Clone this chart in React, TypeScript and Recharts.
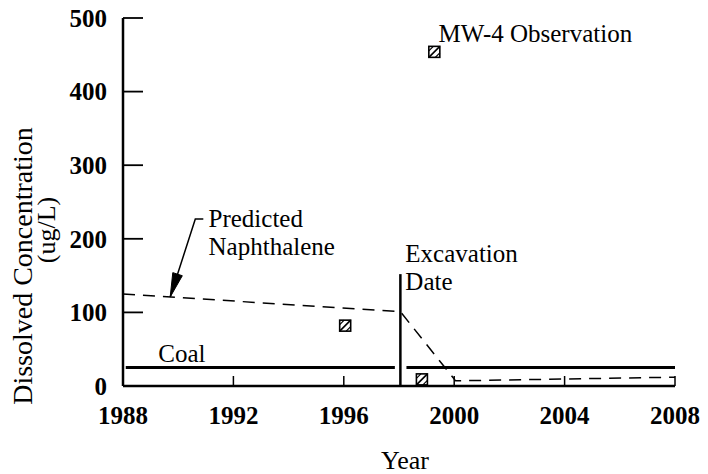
import React from 'react';
import { ComposedChart, Line, Scatter, XAxis, YAxis, ReferenceDot } from 'recharts';

const xTicks = [1988, 1992, 1996, 2000, 2004, 2008];
const yTicks = [0, 100, 200, 300, 400, 500];

const predictedYears = [1988, 1998.05, 2000.05, 2008];
const predictedValues = [125, 101, 7, 12];

const coalLevel = 25;
const coalYearsBefore = [1988.1, 1997.85];
const coalYearsAfter = [1998.27, 2008];

const excavationYear = 1998.05;
const excavationValues = [0, 152];

const obsYears = [1996.05, 1998.83, 1999.28];
const obsValues = [82, 9, 454];

const arrowYears = [1990.91, 1990.62, 1989.71];
const arrowValues = [226.9, 226.9, 120.9];

const annotationYears = [1999.43, 1991.1, 1998.23, 1989.28];
const annotationValues = [467.4, 216, 168.5, 32.6];
const annotationTexts = [['MW-4 Observation'], ['Predicted', 'Naphthalene'], ['Excavation', 'Date'], ['Coal']];

const FONT = 'Liberation Serif, DejaVu Serif, serif';

const zip = (xs: number[], ys: number[]) => xs.map((x, i) => ({ x, y: ys[i] }));
const predictedData = zip(predictedYears, predictedValues);
const coalBefore = coalYearsBefore.map((x) => ({ x, y: coalLevel }));
const coalAfter = coalYearsAfter.map((x) => ({ x, y: coalLevel }));
const excavationData = excavationValues.map((y) => ({ x: excavationYear, y }));
const obsData = zip(obsYears, obsValues);
const arrowData = zip(arrowYears, arrowValues);

const HatchSquare = (props: any) => {
  const { cx, cy } = props;
  if (cx == null || cy == null) return <g />;
  const s = 5.5;
  return (
    <g>
      <rect x={cx - s} y={cy - s} width={2 * s} height={2 * s} fill="#fff" stroke="#000" strokeWidth={1.6} />
      <line x1={cx - s} y1={cy + s} x2={cx + s} y2={cy - s} stroke="#000" strokeWidth={1.6} />
      <line x1={cx - s} y1={cy - 1} x2={cx - 1} y2={cy - s} stroke="#000" strokeWidth={1.2} />
      <line x1={cx + 1} y1={cy + s} x2={cx + s} y2={cy + 1} stroke="#000" strokeWidth={1.2} />
    </g>
  );
};

const ArrowDot = (props: any) => {
  const { cx, cy, index, points } = props;
  if (index !== arrowData.length - 1 || cx == null) return <g key={`ad${index}`} />;
  let dx = -25;
  let dy = 78;
  if (points && points[index - 1]) {
    dx = cx - points[index - 1].x;
    dy = cy - points[index - 1].y;
  }
  const len = Math.sqrt(dx * dx + dy * dy) || 1;
  const ux = dx / len;
  const uy = dy / len;
  const L = 24;
  const W = 5;
  const bx = cx - ux * L;
  const by = cy - uy * L;
  const p = `${cx},${cy} ${bx - uy * W},${by + ux * W} ${bx + uy * W},${by - ux * W}`;
  return <polygon key={`ad${index}`} points={p} fill="#000" stroke="#000" strokeWidth={1} />;
};

const makeTextShape = (lines: string[]) => (props: any) => {
  const { cx, cy } = props;
  return (
    <text x={cx} y={cy} style={{ fontFamily: FONT }} fontSize={25} fill="#000">
      {lines.map((l, i) => (
        <tspan key={i} x={cx} dy={i === 0 ? 0 : 28}>
          {l}
        </tspan>
      ))}
    </text>
  );
};

const XLabel = (props: any) => {
  const vb = props.viewBox || { x: 123, y: 386, width: 552 };
  return (
    <text x={vb.x + vb.width / 2 + 6} y={vb.y + 83} textAnchor="middle" style={{ fontFamily: FONT }} fontSize={26} fill="#000">
      Year
    </text>
  );
};

const YLabel = (props: any) => {
  const vb = props.viewBox || { x: 3, y: 18, width: 120, height: 368 };
  const right = vb.x + vb.width;
  const x1 = right - 91;
  const y1 = vb.y + 248;
  const x2 = right - 68;
  const y2 = vb.y + 212;
  return (
    <g>
      <text x={x1} y={y1} transform={`rotate(-90 ${x1} ${y1})`} textAnchor="middle" style={{ fontFamily: FONT }} fontSize={28} fill="#000">
        Dissolved Concentration
      </text>
      <text x={x2} y={y2} transform={`rotate(-90 ${x2} ${y2})`} textAnchor="middle" style={{ fontFamily: FONT }} fontSize={26} fill="#000">
        (ug/L)
      </text>
    </g>
  );
};

const tickStyle = { fill: '#000', fontFamily: FONT, fontSize: 25, fontWeight: 'bold', style: { fontFamily: FONT } };

export default function App() {
  return (
    <div style={{ position: 'absolute', left: 0, top: 0, width: 708, height: 474, background: '#fff', fontFamily: FONT }}>
      <ComposedChart width={708} height={474} margin={{ top: 18, right: 33, bottom: 58, left: 3 }}>
        <XAxis
          type="number"
          dataKey="x"
          domain={[1988, 2008]}
          ticks={xTicks}
          interval={0}
          height={30}
          allowDataOverflow
          tickSize={-10}
          tickMargin={30}
          axisLine={{ stroke: '#000', strokeWidth: 2.5 }}
          tickLine={{ stroke: '#000', strokeWidth: 1.5 }}
          tick={tickStyle}
          label={<XLabel />}
        />
        <YAxis
          type="number"
          dataKey="y"
          domain={[0, 500]}
          ticks={yTicks}
          interval={0}
          width={120}
          allowDataOverflow
          tickSize={-20}
          tickMargin={36}
          axisLine={{ stroke: '#000', strokeWidth: 2.5 }}
          tickLine={{ stroke: '#000', strokeWidth: 1.8 }}
          tick={tickStyle}
          label={<YLabel />}
        />
        <Line data={coalBefore} dataKey="y" stroke="#000" strokeWidth={3} dot={false} activeDot={false} isAnimationActive={false} />
        <Line data={coalAfter} dataKey="y" stroke="#000" strokeWidth={3} dot={false} activeDot={false} isAnimationActive={false} />
        <Line data={predictedData} dataKey="y" stroke="#000" strokeWidth={1.5} strokeDasharray="12 8" dot={false} activeDot={false} isAnimationActive={false} />
        <Line data={excavationData} dataKey="y" stroke="#000" strokeWidth={2.5} dot={false} activeDot={false} isAnimationActive={false} />
        <Line data={arrowData} dataKey="y" stroke="#000" strokeWidth={1.5} dot={ArrowDot} activeDot={false} isAnimationActive={false} />
        <Scatter data={obsData} dataKey="y" shape={HatchSquare} isAnimationActive={false} />
        {annotationTexts.map((lines, i) => (
          <ReferenceDot
            key={i}
            x={annotationYears[i]}
            y={annotationValues[i]}
            r={0}
            ifOverflow="visible"
            shape={makeTextShape(lines)}
          />
        ))}
      </ComposedChart>
    </div>
  );
}
